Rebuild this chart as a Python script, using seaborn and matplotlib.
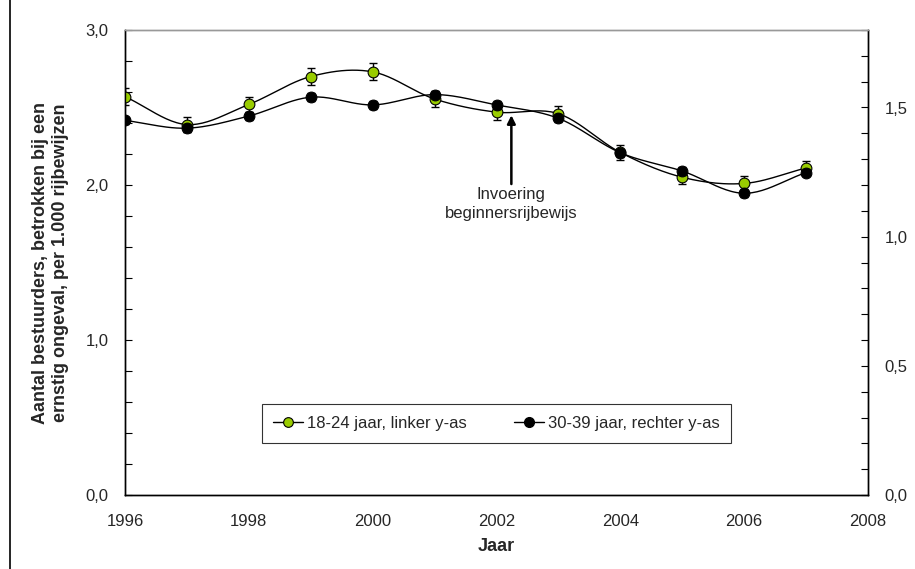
import numpy as np
import pandas as pd
import matplotlib
matplotlib.use("Agg")
import matplotlib.pyplot as plt
import seaborn as sns
from matplotlib.lines import Line2D
from matplotlib.ticker import MultipleLocator, FuncFormatter

# ─── Data ────────────────────────────────────────────────────────────────────
jaren = [1996, 1997, 1998, 1999, 2000, 2001, 2002, 2003, 2004, 2005, 2006, 2007]
jong = [2.57, 2.39, 2.52, 2.70, 2.73, 2.555, 2.47, 2.46, 2.21, 2.05, 2.01, 2.11]
jong_fout = [0.055, 0.05, 0.05, 0.055, 0.055, 0.05, 0.05, 0.05, 0.05, 0.045, 0.045, 0.045]
ouder = [1.45, 1.42, 1.467, 1.54, 1.51, 1.55, 1.51, 1.458, 1.325, 1.254, 1.168, 1.248]
ouder_fout = [0.015] * 12

label_jong = "18-24 jaar, linker y-as"
label_ouder = "30-39 jaar, rechter y-as"
ylabel = "Aantal bestuurders, betrokken bij een\nernstig ongeval, per 1.000 rijbewijzen"
xlabel = "Jaar"
annotatie = "Invoering\nbeginnersrijbewijs"

df = pd.DataFrame({"jaar": jaren, "jong": jong, "jong_fout": jong_fout,
                   "ouder": ouder, "ouder_fout": ouder_fout})

GROEN = "#99CC00"


def smooth(x, y, n=24):
    # Catmull-Rom curve through the points (like Excel's "smoothed line")
    x = np.asarray(x, float)
    y = np.asarray(y, float)
    px = np.concatenate([[2 * x[0] - x[1]], x, [2 * x[-1] - x[-2]]])
    py = np.concatenate([[2 * y[0] - y[1]], y, [2 * y[-1] - y[-2]]])
    xs, ys = [], []
    t = np.linspace(0, 1, n, endpoint=False)
    for i in range(1, len(px) - 2):
        for p, out in ((px, xs), (py, ys)):
            p0, p1, p2, p3 = p[i - 1], p[i], p[i + 1], p[i + 2]
            out.extend(0.5 * ((2 * p1) + (-p0 + p2) * t
                              + (2 * p0 - 5 * p1 + 4 * p2 - p3) * t ** 2
                              + (-p0 + 3 * p1 - 3 * p2 + p3) * t ** 3))
    xs.append(x[-1])
    ys.append(y[-1])
    return np.array(xs), np.array(ys)


sns.set_theme(style="white")
plt.rcParams["font.family"] = ["Liberation Sans", "DejaVu Sans"]

fig, ax = plt.subplots(figsize=(9.15, 5.69), dpi=100)
fig.subplots_adjust(left=125 / 915, right=868 / 915, top=1 - 30 / 569, bottom=1 - 495 / 569)
ax2 = ax.twinx()

komma = FuncFormatter(lambda v, p: f"{v:.1f}".replace(".", ","))

# ─── Left axis: 18-24 jaar ───────────────────────────────────────────────────
sx, sy = smooth(df["jaar"], df["jong"])
ax.plot(sx, sy, color="black", lw=1.0, zorder=2)
ax.errorbar(df["jaar"], df["jong"], yerr=df["jong_fout"], fmt="none",
            ecolor="black", elinewidth=1.0, capsize=3, capthick=1.0, zorder=2)
sns.scatterplot(data=df, x="jaar", y="jong", ax=ax, color=GROEN, s=60,
                edgecolor="black", linewidth=0.8, zorder=3, legend=False)

# ─── Right axis: 30-39 jaar ──────────────────────────────────────────────────
sx, sy = smooth(df["jaar"], df["ouder"])
ax2.plot(sx, sy, color="black", lw=1.0, zorder=2)
ax2.errorbar(df["jaar"], df["ouder"], yerr=df["ouder_fout"], fmt="none",
             ecolor="black", elinewidth=1.0, capsize=3, capthick=1.0, zorder=2)
sns.scatterplot(data=df, x="jaar", y="ouder", ax=ax2, color="black", s=60,
                edgecolor="black", linewidth=0.8, zorder=3, legend=False)

# ─── Axes styling ────────────────────────────────────────────────────────────
ax.set_xlim(1996, 2008)
ax.set_ylim(0, 3.0)
ax2.set_ylim(0, 1.8)
ax.set_xticks(range(1996, 2009, 2))
ax.yaxis.set_major_locator(MultipleLocator(1.0))
ax.yaxis.set_minor_locator(MultipleLocator(0.2))
ax2.yaxis.set_major_locator(MultipleLocator(0.5))
ax2.yaxis.set_minor_locator(MultipleLocator(0.1))
ax.yaxis.set_major_formatter(komma)
ax2.yaxis.set_major_formatter(komma)

ax.tick_params(axis="y", which="both", direction="in", length=5, width=0.8,
               color="black", labelsize=12, pad=12, left=True)
ax.tick_params(axis="x", which="both", length=0, labelsize=12, pad=14, bottom=True)
ax2.tick_params(axis="y", which="both", direction="in", length=5, width=0.8,
                color="black", labelsize=12, pad=12, right=True)

for a in (ax, ax2):
    for side in ("left", "right", "bottom"):
        a.spines[side].set_color("black")
        a.spines[side].set_linewidth(1.0)
    a.spines["top"].set_color("#999999")
    a.spines["top"].set_linewidth(1.0)
    a.set_ylabel("")
    a.set_xlabel("")
ax.grid(False)
ax2.grid(False)

ax.set_ylabel(ylabel, fontsize=13, fontweight="bold", labelpad=12, linespacing=1.2)
ax.set_xlabel(xlabel, fontsize=13, fontweight="bold", labelpad=6)

# ─── Annotation ──────────────────────────────────────────────────────────────
ax.annotate(annotatie, xy=(2002.24, 2.45), xytext=(2002.24, 1.985),
            ha="center", va="top", fontsize=12, linespacing=1.3,
            arrowprops=dict(arrowstyle="-|>", color="black", lw=1.8,
                            mutation_scale=12, shrinkA=0, shrinkB=0))

# ─── Legend ──────────────────────────────────────────────────────────────────
handles = [
    Line2D([], [], color="black", lw=1.0, marker="o", markersize=7,
           markerfacecolor=GROEN, markeredgecolor="black", markeredgewidth=0.8),
    Line2D([], [], color="black", lw=1.0, marker="o", markersize=7,
           markerfacecolor="black", markeredgecolor="black"),
]
leg = ax2.legend(handles, [label_jong, label_ouder], loc="center",
                 bbox_to_anchor=(0.5, 0.154), ncol=2, fontsize=12,
                 frameon=True, fancybox=False, edgecolor="black",
                 handlelength=1.8, handletextpad=0.25, columnspacing=2.8,
                 borderpad=0.7)
leg.get_frame().set_linewidth(0.8)

# ─── Left border line of the picture ────────────────────────────────────────
fig.add_artist(Line2D([10 / 915, 10 / 915], [0, 1], transform=fig.transFigure,
                      color="black", lw=1.2))

plt.savefig("out.png", dpi=100)
